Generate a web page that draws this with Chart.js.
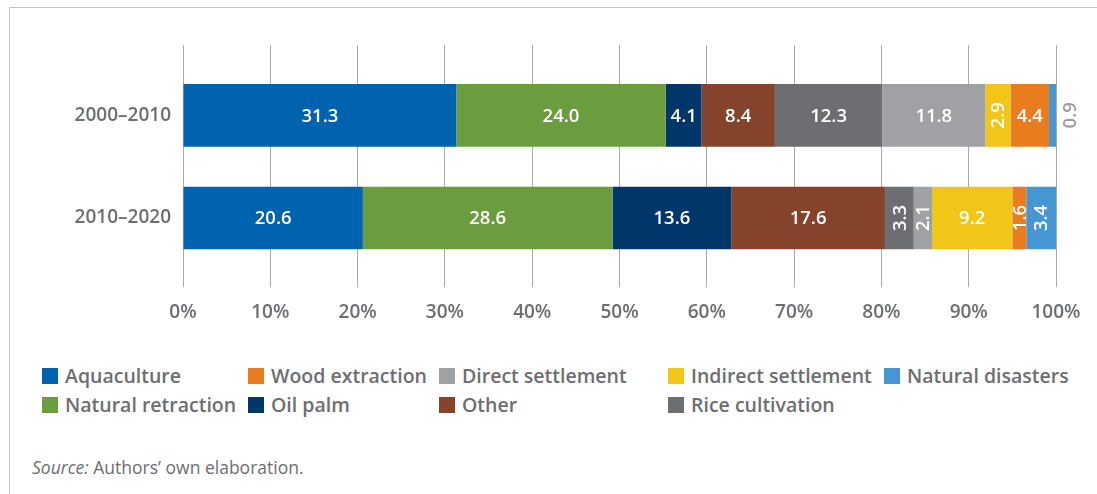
<!DOCTYPE html>
<html>
<head>
<meta charset="utf-8">
<script src="https://cdn.jsdelivr.net/npm/chart.js@4/dist/chart.umd.min.js"></script>
<style>
  html, body { margin: 0; padding: 0; background: #fff; }
  body { width: 1097px; height: 494px; position: relative; overflow: hidden; font-family: "Open Sans", sans-serif; }
  .frame { position: absolute; left: 9px; top: 7px; right: -4px; bottom: -4px; border-left: 1.5px solid #c4c4c4; border-top: 1.5px solid #c4c4c4; }
  #chartBox { position: absolute; left: 0; top: 0; }
  #legend { position: absolute; left: 42px; top: 361px; display: grid; grid-auto-flow: column;
            grid-template-rows: 29px 29px; grid-template-columns: 206px 191px 229px 216px auto; }
  .legend-item { display: flex; align-items: center; font-size: 19.5px; font-weight: 600; color: #6d6e71; white-space: nowrap; }
  .legend-swatch { width: 16px; height: 16px; margin-right: 7px; flex: none; }
  .source { position: absolute; left: 32px; top: 455px; font-size: 17.5px; color: #6d6e71; }
</style>
</head>
<body>
<div class="frame"></div>
<div id="chartBox"><canvas id="causesChart" width="1097" height="330"></canvas></div>
<div id="legend"></div>
<div class="source"><i>Source:</i> Authors’ own elaboration.</div>

<script>
// Periods and the causes of mangrove loss, stacked left to right
const periods = ['2000–2010', '2010–2020'];
const causes = ['Aquaculture', 'Natural retraction', 'Oil palm', 'Other', 'Rice cultivation',
                'Direct settlement', 'Indirect settlement', 'Wood extraction', 'Natural disasters'];

// Share of each cause (%), same order as causes
const share2000_2010 = [31.3, 24.0, 4.1, 8.4, 12.3, 11.8, 2.9, 4.4, 0.9];
const share2010_2020 = [20.6, 28.6, 13.6, 17.6, 3.3, 2.1, 9.2, 1.6, 3.4];

const percentTicks = [0, 10, 20, 30, 40, 50, 60, 70, 80, 90, 100];

// Legend reads down the columns, two rows
const legendOrder = ['Aquaculture', 'Natural retraction', 'Wood extraction', 'Oil palm',
                     'Direct settlement', 'Other', 'Indirect settlement', 'Rice cultivation', 'Natural disasters'];

const causeColors = {
    'Aquaculture': '#0063af',
    'Natural retraction': '#6b9d3e',
    'Oil palm': '#00366a',
    'Other': '#84432a',
    'Rice cultivation': '#6d6e72',
    'Direct settlement': '#a0a1a4',
    'Indirect settlement': '#f2c618',
    'Wood extraction': '#e87c1f',
    'Natural disasters': '#4596d3'
};

const textGrey = '#6d6e71';
const gridGrey = '#ababab';
const labelFont = { family: '"Open Sans", sans-serif', size: 19, weight: '600' };

// Value labels: horizontal when they fit, turned when narrow, outside when tiny
const barLabels = {
    id: 'barLabels',
    afterDatasetsDraw(chart) {
        const ctx = chart.ctx;
        ctx.save();
        ctx.font = '600 18.5px "Open Sans", sans-serif';
        ctx.textAlign = 'center';
        ctx.textBaseline = 'middle';
        chart.data.datasets.forEach((ds, i) => {
            chart.getDatasetMeta(i).data.forEach((bar, j) => {
                const value = ds.data[j];
                const text = value.toFixed(1);
                const width = Math.abs(bar.x - bar.base);
                const cx = (bar.x + bar.base) / 2;
                const textWidth = ctx.measureText(text).width;
                ctx.save();
                if (width < 10) {
                    ctx.fillStyle = '#9a9b9e';
                    ctx.translate(Math.max(bar.x, bar.base) + 13, bar.y);
                    ctx.rotate(-Math.PI / 2);
                    ctx.fillText(text, 0, 1);
                } else if (textWidth + 8 > width) {
                    ctx.fillStyle = '#ffffff';
                    ctx.translate(cx, bar.y);
                    ctx.rotate(-Math.PI / 2);
                    ctx.fillText(text, 0, 1);
                } else {
                    ctx.fillStyle = '#ffffff';
                    ctx.fillText(text, cx, bar.y + 1);
                }
                ctx.restore();
            });
        });
        ctx.restore();
    }
};

const datasets = causes.map((cause, k) => ({
    label: cause,
    data: [share2000_2010[k], share2010_2020[k]],
    backgroundColor: causeColors[cause],
    borderWidth: 0,
    categoryPercentage: 1,
    barPercentage: 0.61
}));

const chart = new Chart(document.getElementById('causesChart'), {
    type: 'bar',
    data: { labels: periods, datasets: datasets },
    options: {
        indexAxis: 'y',
        responsive: false,
        animation: false,
        layout: { padding: { left: 0, right: 41, top: 45, bottom: 0 } },
        scales: {
            x: {
                position: 'bottom',
                stacked: true,
                min: 0,
                max: 100,
                afterBuildTicks: s => { s.ticks = percentTicks.map(v => ({ value: v })); },
                afterFit: s => { s.height = 60.7; },
                grid: { color: gridGrey, lineWidth: 1, drawTicks: true, tickLength: 18 },
                border: { display: false },
                ticks: { color: textGrey, font: labelFont, padding: 14, maxRotation: 0, callback: v => v + '%' }
            },
            xTop: {
                type: 'linear',
                position: 'top',
                min: 0,
                max: 100,
                afterBuildTicks: s => { s.ticks = percentTicks.map(v => ({ value: v })); },
                afterFit: s => { s.height = 19; },
                grid: { color: gridGrey, lineWidth: 1, drawOnChartArea: false, drawTicks: true, tickLength: 19 },
                border: { display: false },
                ticks: { display: false }
            },
            y: {
                stacked: true,
                afterFit: s => { s.width = 183; },
                grid: { display: false, drawTicks: false },
                border: { display: false },
                ticks: { color: textGrey, font: labelFont, padding: 12 }
            }
        },
        plugins: {
            legend: { display: false },
            tooltip: { enabled: false }
        }
    },
    plugins: [barLabels]
});

// HTML legend built from the chart's datasets
const legendBox = document.getElementById('legend');
legendOrder.forEach(name => {
    const ds = chart.data.datasets.find(d => d.label === name);
    const item = document.createElement('div');
    item.className = 'legend-item';
    item.innerHTML = `<span class="legend-swatch" style="background:${ds.backgroundColor}"></span>${ds.label}`;
    legendBox.appendChild(item);
});
</script>
</body>
</html>
